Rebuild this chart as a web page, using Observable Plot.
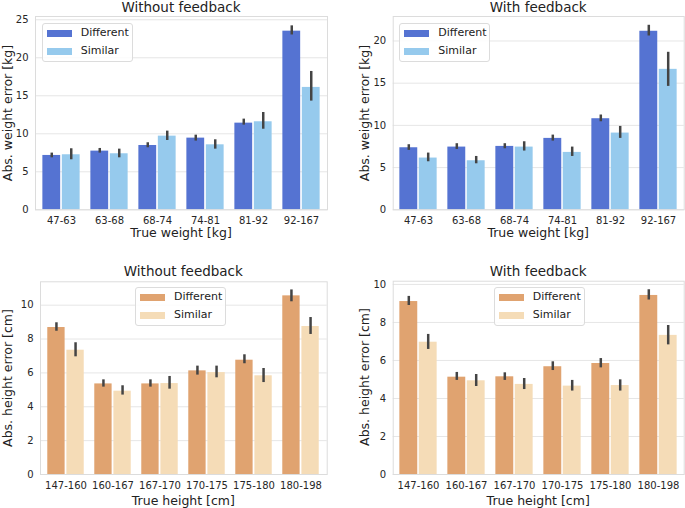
<!DOCTYPE html>
<html>
<head>
<meta charset="utf-8">
<script src="https://cdn.jsdelivr.net/npm/d3@7"></script>
<script src="https://cdn.jsdelivr.net/npm/@observablehq/plot@0.6"></script>
<style>
  body { margin: 0; background: #fff; }
  #root { position: relative; width: 685px; height: 508px; background: #fff; font-family: "DejaVu Sans", sans-serif; color: #222; overflow: hidden; }
  .abs { position: absolute; white-space: nowrap; }
  .title { font-size: 13.5px; text-align: center; line-height: 16px; }
  .xlab { font-size: 12.5px; text-align: center; line-height: 14px; }
  .ylab { font-size: 12.5px; text-align: center; line-height: 14px; transform: rotate(-90deg); }
  .legend { border: 1px solid #dcdcdc; border-radius: 3px; background: rgba(255,255,255,0.85); box-sizing: border-box; }
  .legend .sw { position: absolute; width: 25px; height: 7px; }
  .legend .lt { position: absolute; font-size: 11px; line-height: 12px; color: #222; }
</style>
</head>
<body>
<div id="root"></div>
<script>
// ---- categories & labels ----
const weightCats = ["47-63", "63-68", "68-74", "74-81", "81-92", "92-167"];
const heightCats = ["147-160", "160-167", "167-170", "170-175", "175-180", "180-198"];
const series = ["Different", "Similar"];
const weightTicks = [0, 5, 10, 15, 20, 25];
const weightTicksFb = [0, 5, 10, 15, 20];
const heightTicks = [0, 2, 4, 6, 8, 10];

// ---- weight, without feedback ----
const wNoDiff   = [7.15, 7.72, 8.46, 9.43, 11.40, 23.50];
const wNoDiffLo = [6.84, 7.46, 8.16, 9.04, 11.14, 23.00];
const wNoDiffHi = [7.46, 8.07, 8.82, 9.82, 11.93, 24.20];
const wNoSim    = [7.24, 7.37, 9.69, 8.55, 11.58, 16.10];
const wNoSimLo  = [6.58, 6.84, 9.12, 7.98, 10.60, 14.30];
const wNoSimHi  = [8.03, 7.98, 10.35, 9.21, 12.80, 18.20];

// ---- weight, with feedback ----
const wFbDiff   = [7.35, 7.43, 7.51, 8.46, 10.79, 21.15];
const wFbDiffLo = [7.04, 7.15, 7.23, 8.14, 10.43, 20.59];
const wFbDiffHi = [7.71, 7.83, 7.83, 8.85, 11.23, 21.86];
const wFbSim    = [6.13, 5.81, 7.43, 6.80, 9.09, 16.64];
const wFbSimLo  = [5.69, 5.45, 6.96, 6.32, 8.46, 14.62];
const wFbSimHi  = [6.72, 6.32, 8.06, 7.43, 9.88, 18.66];

// ---- height, without feedback ----
const hNoDiff   = [8.68, 5.35, 5.35, 6.12, 6.75, 10.55];
const hNoDiffLo = [8.46, 5.16, 5.16, 5.87, 6.54, 10.20];
const hNoDiffHi = [8.96, 5.59, 5.59, 6.40, 7.07, 10.90];
const hNoSim    = [7.34, 4.92, 5.37, 6.02, 5.83, 8.74];
const hNoSimLo  = [6.95, 4.69, 5.04, 5.71, 5.43, 8.27];
const hNoSimHi  = [7.78, 5.24, 5.79, 6.40, 6.26, 9.27];

// ---- height, with feedback ----
const hFbDiff   = [9.10, 5.12, 5.14, 5.67, 5.84, 9.42];
const hFbDiffLo = [8.89, 4.95, 4.95, 5.47, 5.61, 9.18];
const hFbDiffHi = [9.37, 5.37, 5.35, 5.93, 6.10, 9.72];
const hFbSim    = [6.96, 4.93, 4.74, 4.65, 4.68, 7.32];
const hFbSimLo  = [6.58, 4.63, 4.47, 4.39, 4.39, 6.82];
const hFbSimHi  = [7.37, 5.26, 5.05, 4.95, 4.98, 7.84];

const weightColors = ["#5573d2", "#96caed"];
const heightColors = ["#e0a370", "#f5dcb7"];

const root = document.getElementById("root");

function addDiv(cls, text, css) {
  const d = document.createElement("div");
  d.className = "abs " + cls;
  d.textContent = text;
  Object.assign(d.style, css);
  root.appendChild(d);
  return d;
}

function panel(o) {
  const rows = [];
  o.vals.forEach((sv, si) => o.cats.forEach((c, i) => rows.push({cat: c, series: series[si], v: sv.v[i], lo: sv.lo[i], hi: sv.hi[i]})));
  const innerW = o.width - o.ml - o.mr;
  const bw = innerW / o.cats.length;
  const diff = rows.filter(d => d.series === "Different");
  const sim = rows.filter(d => d.series === "Similar");
  const chart = Plot.plot({
    width: o.width, height: o.height,
    marginLeft: o.ml, marginRight: o.mr, marginTop: o.mt, marginBottom: o.mb,
    style: {fontFamily: "DejaVu Sans", fontSize: "10px", color: "#262626", background: "transparent", overflow: "visible"},
    x: {type: "band", domain: o.cats, padding: 0, label: null, tickSize: 0, tickPadding: 7},
    y: {domain: [0, o.yMax], ticks: o.ticks, label: null, tickSize: 0, tickPadding: 7},
    color: {domain: series, range: o.colors},
    marks: [
      Plot.ruleY(o.ticks, {stroke: "#e6e6e6", strokeWidth: 1}),
      Plot.barY(diff, {x: "cat", y: "v", fill: "series", insetLeft: 0.1 * bw + 0.5, insetRight: 0.5 * bw + 0.5}),
      Plot.barY(sim, {x: "cat", y: "v", fill: "series", insetLeft: 0.5 * bw + 0.5, insetRight: 0.1 * bw + 0.5}),
      Plot.ruleX(diff, {x: "cat", y1: "lo", y2: "hi", dx: -0.2 * bw, stroke: "#444", strokeWidth: 2.5}),
      Plot.ruleX(sim, {x: "cat", y1: "lo", y2: "hi", dx: 0.2 * bw, stroke: "#444", strokeWidth: 2.5}),
      Plot.frame({stroke: "#dcdcdc"})
    ]
  });
  chart.style.position = "absolute";
  chart.style.left = o.left + "px";
  chart.style.top = o.top + "px";
  root.appendChild(chart);

  const px0 = o.left + o.ml, px1 = o.left + o.width - o.mr;
  const cx = (px0 + px1) / 2;
  const py0 = o.top + o.mt, py1 = o.top + o.height - o.mb;
  addDiv("title", o.title, {left: (cx - 100) + "px", width: "200px", top: (o.titleY - 8) + "px", height: "16px"});
  addDiv("xlab", o.xlabel, {left: (cx - 100) + "px", width: "200px", top: (o.xlabY - 7) + "px", height: "14px"});
  addDiv("ylab", o.ylabel, {left: (o.ylabX - 100) + "px", width: "200px", top: ((py0 + py1) / 2 - 7) + "px", height: "14px"});

  const lg = addDiv("legend", "", {left: o.lg[0] + "px", top: o.lg[1] + "px", width: "91px", height: "39px"});
  series.forEach((s, i) => {
    const sw = document.createElement("div");
    sw.className = "sw";
    Object.assign(sw.style, {left: "4px", top: (6 + i * 18) + "px", background: o.colors[i]});
    lg.appendChild(sw);
    const t = document.createElement("div");
    t.className = "lt";
    t.textContent = s;
    Object.assign(t.style, {left: "38px", top: (3 + i * 18) + "px"});
    lg.appendChild(t);
  });
}

panel({left: 0, top: 0, width: 342, height: 254, ml: 35, mr: 15, mt: 16, mb: 44.7,
  cats: weightCats, ticks: weightTicks, yMax: 25.43, colors: weightColors,
  vals: [{v: wNoDiff, lo: wNoDiffLo, hi: wNoDiffHi}, {v: wNoSim, lo: wNoSimLo, hi: wNoSimHi}],
  title: "Without feedback", titleY: 6.7, xlabel: "True weight [kg]", xlabY: 233,
  ylabel: "Abs. weight error [kg]", ylabX: 8, lg: [41.7, 22.7]});

panel({left: 342, top: 0, width: 343, height: 254, ml: 50.7, mr: 1.3, mt: 16, mb: 44.7,
  cats: weightCats, ticks: weightTicksFb, yMax: 22.9, colors: weightColors,
  vals: [{v: wFbDiff, lo: wFbDiffLo, hi: wFbDiffHi}, {v: wFbSim, lo: wFbSimLo, hi: wFbSimHi}],
  title: "With feedback", titleY: 6.7, xlabel: "True weight [kg]", xlabY: 233,
  ylabel: "Abs. weight error [kg]", ylabX: 365, lg: [399.3, 22.7]});

panel({left: 0, top: 254, width: 342, height: 254, ml: 40, mr: 15.3, mt: 27.3, mb: 34,
  cats: heightCats, ticks: heightTicks, yMax: 11.38, colors: heightColors,
  vals: [{v: hNoDiff, lo: hNoDiffLo, hi: hNoDiffHi}, {v: hNoSim, lo: hNoSimLo, hi: hNoSimHi}],
  title: "Without feedback", titleY: 270.7, xlabel: "True height [cm]", xlabY: 500.7,
  ylabel: "Abs. height error [cm]", ylabX: 8, lg: [135, 287.3]});

panel({left: 342, top: 254, width: 343, height: 254, ml: 50.7, mr: 1.3, mt: 26.7, mb: 34,
  cats: heightCats, ticks: heightTicks, yMax: 10.17, colors: heightColors,
  vals: [{v: hFbDiff, lo: hFbDiffLo, hi: hFbDiffHi}, {v: hFbSim, lo: hFbSimLo, hi: hFbSimHi}],
  title: "With feedback", titleY: 270.7, xlabel: "True height [cm]", xlabY: 500.7,
  ylabel: "Abs. height error [cm]", ylabX: 365, lg: [493.7, 287.3]});
</script>
</body>
</html>
